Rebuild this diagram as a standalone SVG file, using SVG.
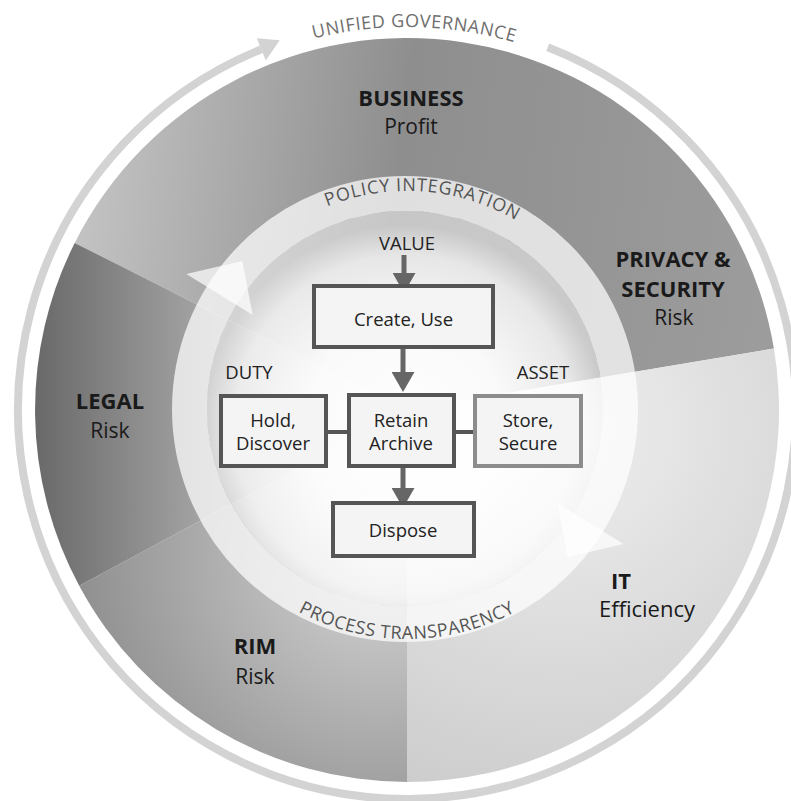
<svg xmlns="http://www.w3.org/2000/svg" width="791" height="801" viewBox="0 0 791 801">
<style>
.lbl{font-family:"Open Sans","Liberation Sans",sans-serif;fill:#1a1a1a;text-anchor:middle}
.b{font-weight:700;font-size:22px}
.r{font-size:21px}
.box{fill:#f4f4f4;stroke:#555;stroke-width:4}
.bt{font-family:"Open Sans","Liberation Sans",sans-serif;fill:#222;font-size:18.5px;text-anchor:middle}
.arc{font-family:"Open Sans","Liberation Sans",sans-serif;font-size:18px;text-anchor:middle}
.conn{stroke:#555;stroke-width:4;fill:none}
.arr{stroke:#666;stroke-width:5;fill:none;marker-end:url(#ah)}
</style>
<defs>
<marker id="ah" viewBox="0 0 20 23" markerWidth="20" markerHeight="23" refX="2" refY="11.5" orient="auto" markerUnits="userSpaceOnUse">
<path d="M0,0 L20,11.5 L0,23 Z" fill="#666"/>
</marker>
<linearGradient id="gTop" gradientUnits="userSpaceOnUse" x1="80" y1="250" x2="760" y2="330">
<stop offset="0" stop-color="#c2c2c2"/><stop offset="0.45" stop-color="#8e8e8e"/><stop offset="1" stop-color="#9c9c9c"/>
</linearGradient>
<linearGradient id="gLegal" gradientUnits="userSpaceOnUse" x1="38" y1="0" x2="215" y2="0">
<stop offset="0" stop-color="#6a6a6a"/><stop offset="1" stop-color="#a8a8a8"/>
</linearGradient>
<radialGradient id="gRim" gradientUnits="userSpaceOnUse" cx="380" cy="560" r="380">
<stop offset="0" stop-color="#d4d4d4"/><stop offset="1" stop-color="#7e7e7e"/>
</radialGradient>
<radialGradient id="gIT" gradientUnits="userSpaceOnUse" cx="560" cy="430" r="400">
<stop offset="0" stop-color="#efefef"/><stop offset="1" stop-color="#cbcbcb"/>
</radialGradient>
<radialGradient id="gInner" gradientUnits="userSpaceOnUse" cx="405" cy="425" r="200">
<stop offset="0" stop-color="#fff" stop-opacity="1"/>
<stop offset="0.5" stop-color="#fff" stop-opacity="0.95"/>
<stop offset="0.85" stop-color="#fff" stop-opacity="0.78"/>
<stop offset="1" stop-color="#fff" stop-opacity="0.5"/>
</radialGradient>
<path id="pOuter" d="M75.3,218.5 A383,383 0 0 1 745.8,231.4"/>
<path id="pTop" d="M226.9,287.1 A217,217 0 0 1 603.4,315.5"/>
<path id="pBot" d="M208.7,524.5 A229,229 0 0 0 605.3,524.5"/>
</defs>
<rect width="791" height="801" fill="#fff"/>

<g id="sectors">
<path id="sector-top" d="M407,410 L74.7,242.9 A372,372 0 0 1 773.9,348.6 Z" fill="url(#gTop)"/>
<path id="sector-it" d="M407,410 L773.9,348.6 A372,372 0 0 1 407,782 Z" fill="url(#gIT)"/>
<path id="sector-rim" d="M407,410 L407,782 A372,372 0 0 1 79.2,585.8 Z" fill="url(#gRim)"/>
<path id="sector-legal" d="M407,410 L79.2,585.8 A372,372 0 0 1 74.7,242.9 Z" fill="url(#gLegal)"/>
</g>

<g id="inner-ring">
<circle cx="405" cy="409" r="198" fill="url(#gInner)"/>
<circle cx="405" cy="409" r="215.5" fill="none" stroke="#fff" stroke-opacity="0.72" stroke-width="35"/>
<polygon points="252.7,314.9 186.3,274.0 242.3,260.9" fill="#fff" fill-opacity="0.7"/>
<polygon points="623.7,544.0 557.3,503.1 567.7,557.1" fill="#fff" fill-opacity="0.7"/>
<text class="arc" fill="#555" letter-spacing="0.8"><textPath href="#pTop" startOffset="50%">POLICY INTEGRATION</textPath></text>
<text class="arc" fill="#555" letter-spacing="0.5"><textPath href="#pBot" startOffset="50%">PROCESS TRANSPARENCY</textPath></text>
</g>

<g id="outer-ring">
<path d="M547.7,47.3 A389,389 0 1 1 261.3,49.3" fill="none" stroke="#d3d3d3" stroke-width="8"/>
<polygon points="265.8,60.5 256.8,38.2 279.7,40.3" fill="#d3d3d3"/>
<text class="arc" fill="#6e6e6e" font-size="18.5" letter-spacing="0.6"><textPath href="#pOuter" startOffset="50%">UNIFIED GOVERNANCE</textPath></text>
</g>

<g id="labels">
<g id="business"><text class="lbl b" x="411" y="106">BUSINESS</text><text class="lbl r" x="411" y="134">Profit</text></g>
<g id="privacy"><text class="lbl b" x="673" y="267">PRIVACY &amp;</text><text class="lbl b" x="673" y="297">SECURITY</text><text class="lbl r" x="674" y="325">Risk</text></g>
<g id="legal"><text class="lbl b" x="110" y="409">LEGAL</text><text class="lbl r" x="110" y="438">Risk</text></g>
<g id="it"><text class="lbl b" x="621" y="589">IT</text><text class="lbl" x="647" y="617" font-size="22">Efficiency</text></g>
<g id="rim"><text class="lbl b" x="255" y="654">RIM</text><text class="lbl r" x="255" y="684">Risk</text></g>
</g>

<g id="connectors">
<line class="arr" x1="404" y1="255" x2="404" y2="275"/>
<line class="arr" x1="403" y1="349" x2="403" y2="374"/>
<line class="arr" x1="403" y1="468" x2="403" y2="490"/>
<line class="conn" x1="328" y1="432" x2="347" y2="432"/>
<line class="conn" x1="456" y1="432" x2="473" y2="432"/>
</g>

<g id="value"><text class="bt" x="407" y="250" font-size="20">VALUE</text></g>
<g id="duty"><text class="bt" x="249" y="379" font-size="20">DUTY</text></g>
<g id="asset"><text class="bt" x="543" y="379" font-size="20">ASSET</text></g>

<g id="create"><rect class="box" x="314" y="286" width="179" height="61"/><text class="bt" x="403.5" y="326">Create, Use</text></g>
<g id="retain"><rect class="box" x="349" y="395" width="105" height="71"/><text class="bt" x="401" y="427">Retain</text><text class="bt" x="401" y="450">Archive</text></g>
<g id="hold"><rect class="box" x="221" y="396" width="105" height="70"/><text class="bt" x="273" y="427">Hold,</text><text class="bt" x="273" y="450">Discover</text></g>
<g id="store"><rect class="box" x="475" y="396" width="106" height="70" style="stroke:#8c8c8c"/><text class="bt" x="528" y="427">Store,</text><text class="bt" x="528" y="450">Secure</text></g>
<g id="dispose"><rect class="box" x="333" y="503" width="141" height="53"/><text class="bt" x="403" y="537">Dispose</text></g>
</svg>
